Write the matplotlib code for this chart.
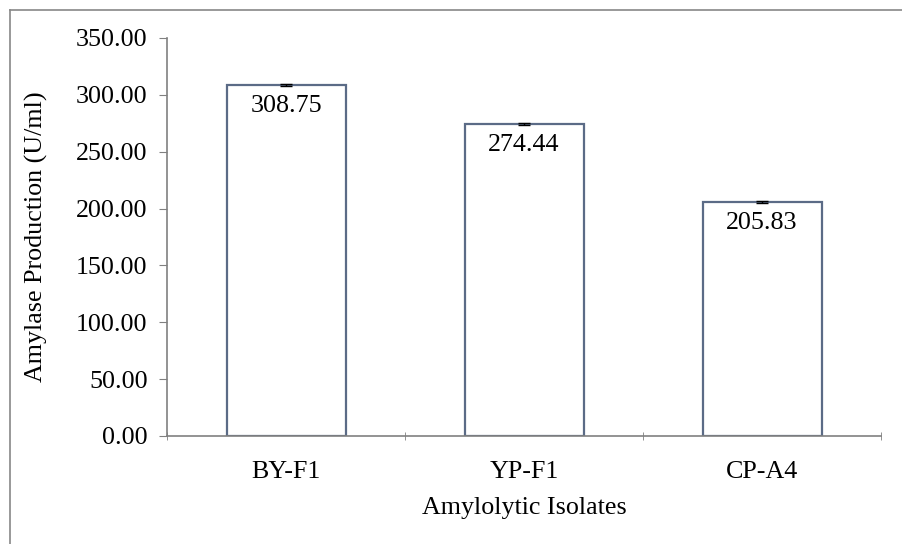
import matplotlib
matplotlib.use("Agg")
import matplotlib.pyplot as plt
import numpy as np

isolates = ["BY-F1", "YP-F1", "CP-A4"]
production = [308.75, 274.44, 205.83]
errors = [1.2, 0.8, 0.6]

plt.rcParams['font.family'] = ['Liberation Serif', 'DejaVu Serif']
fs = 18.7

fig = plt.figure(figsize=(9.02, 5.44), dpi=100)
ax = fig.add_axes([167 / 902, 1 - 436 / 544, (881 - 167) / 902, (436 - 38) / 544])

x = np.arange(len(isolates))
ax.bar(x, production, width=0.5, color="white", edgecolor="#5b6b86", linewidth=1.6,
       yerr=errors, capsize=4, error_kw=dict(ecolor="black", elinewidth=1, capthick=1))

for xi, v in zip(x, production):
    ax.text(xi, v - 9, f"{v:.2f}", ha="center", va="top", fontsize=fs)

ax.set_xlim(-0.5, len(isolates) - 0.5)
ax.set_ylim(0, 350)
ax.set_yticks(np.arange(0, 351, 50))
ax.set_yticklabels([f"{t:.2f}" for t in np.arange(0, 351, 50)])
ax.set_xticks(x)
ax.set_xticklabels(isolates)
ax.set_xticks(np.arange(-0.5, len(isolates), 1), minor=True)
ax.tick_params(axis="x", which="major", length=0, labelsize=fs, pad=18)
ax.tick_params(axis="x", which="minor", length=6, direction="inout", color="#808080")
ax.tick_params(axis="y", length=6, labelsize=fs, color="#808080", pad=8)

for s in ["top", "right"]:
    ax.spines[s].set_visible(False)
for s in ["left", "bottom"]:
    ax.spines[s].set_color("#808080")
    ax.spines[s].set_linewidth(1.2)

ax.set_xlabel("Amylolytic Isolates", fontsize=fs, labelpad=10)
ax.set_ylabel("Amylase Production (U/ml)", fontsize=fs, labelpad=20)

# outer frame (cropped at right and bottom)
fig.add_artist(plt.Line2D([9.5 / 902, 9.5 / 902], [0, 1 - 9.5 / 544], color="#888888", lw=1.2))
fig.add_artist(plt.Line2D([9.5 / 902, 1], [1 - 9.5 / 544, 1 - 9.5 / 544], color="#888888", lw=1.2))

fig.savefig("out.png", dpi=100, facecolor="white")
